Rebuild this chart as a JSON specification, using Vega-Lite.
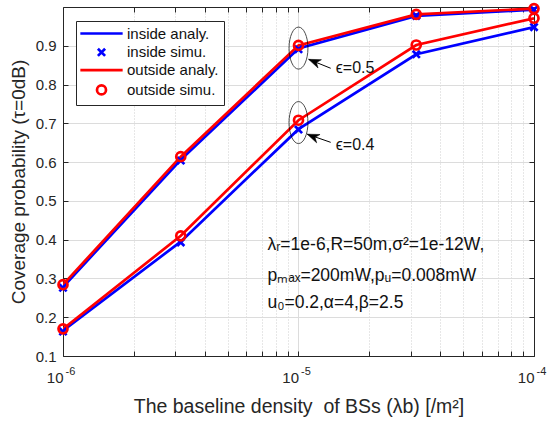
{
  "$schema": "https://vega.github.io/schema/vega-lite/v6.json",
  "width": 471,
  "height": 349,
  "autosize": {"type": "none"},
  "padding": {"left": 63, "top": 7, "right": 14, "bottom": 72},
  "background": "white",
  "config": {
    "font": "Liberation Sans",
    "view": {"stroke": null},
    "axis": {"labelFont": "Liberation Sans", "titleFont": "Liberation Sans", "labelColor": "#262626", "titleColor": "#262626", "domainColor": "#262626", "tickColor": "#262626", "labelFontSize": 15, "titleFontSize": 19, "titleFontWeight": "normal"}
  },
  "datasets": {
    "curves": [
      {"lambda": 1e-6, "cov": 0.278, "eps": "0.5", "kind": "inside analy."},
      {"lambda": 3.1623e-6, "cov": 0.606, "eps": "0.5", "kind": "inside analy."},
      {"lambda": 1e-5, "cov": 0.893, "eps": "0.5", "kind": "inside analy."},
      {"lambda": 3.1623e-5, "cov": 0.977, "eps": "0.5", "kind": "inside analy."},
      {"lambda": 1e-4, "cov": 0.993, "eps": "0.5", "kind": "inside analy."},
      {"lambda": 1e-6, "cov": 0.165, "eps": "0.4", "kind": "inside analy."},
      {"lambda": 3.1623e-6, "cov": 0.395, "eps": "0.4", "kind": "inside analy."},
      {"lambda": 1e-5, "cov": 0.685, "eps": "0.4", "kind": "inside analy."},
      {"lambda": 3.1623e-5, "cov": 0.878, "eps": "0.4", "kind": "inside analy."},
      {"lambda": 1e-4, "cov": 0.948, "eps": "0.4", "kind": "inside analy."},
      {"lambda": 1e-6, "cov": 0.284, "eps": "0.5", "kind": "outside analy."},
      {"lambda": 3.1623e-6, "cov": 0.614, "eps": "0.5", "kind": "outside analy."},
      {"lambda": 1e-5, "cov": 0.901, "eps": "0.5", "kind": "outside analy."},
      {"lambda": 3.1623e-5, "cov": 0.981, "eps": "0.5", "kind": "outside analy."},
      {"lambda": 1e-4, "cov": 0.996, "eps": "0.5", "kind": "outside analy."},
      {"lambda": 1e-6, "cov": 0.170, "eps": "0.4", "kind": "outside analy."},
      {"lambda": 3.1623e-6, "cov": 0.410, "eps": "0.4", "kind": "outside analy."},
      {"lambda": 1e-5, "cov": 0.708, "eps": "0.4", "kind": "outside analy."},
      {"lambda": 3.1623e-5, "cov": 0.902, "eps": "0.4", "kind": "outside analy."},
      {"lambda": 1e-4, "cov": 0.971, "eps": "0.4", "kind": "outside analy."}
    ],
    "sims": [
      {"lambda": 1e-6, "cov": 0.276, "eps": "0.5", "kind": "inside simu."},
      {"lambda": 3.1623e-6, "cov": 0.604, "eps": "0.5", "kind": "inside simu."},
      {"lambda": 1e-5, "cov": 0.891, "eps": "0.5", "kind": "inside simu."},
      {"lambda": 3.1623e-5, "cov": 0.977, "eps": "0.5", "kind": "inside simu."},
      {"lambda": 1e-4, "cov": 0.993, "eps": "0.5", "kind": "inside simu."},
      {"lambda": 1e-6, "cov": 0.163, "eps": "0.4", "kind": "inside simu."},
      {"lambda": 3.1623e-6, "cov": 0.393, "eps": "0.4", "kind": "inside simu."},
      {"lambda": 1e-5, "cov": 0.684, "eps": "0.4", "kind": "inside simu."},
      {"lambda": 3.1623e-5, "cov": 0.878, "eps": "0.4", "kind": "inside simu."},
      {"lambda": 1e-4, "cov": 0.948, "eps": "0.4", "kind": "inside simu."},
      {"lambda": 1e-6, "cov": 0.284, "eps": "0.5", "kind": "outside simu."},
      {"lambda": 3.1623e-6, "cov": 0.614, "eps": "0.5", "kind": "outside simu."},
      {"lambda": 1e-5, "cov": 0.901, "eps": "0.5", "kind": "outside simu."},
      {"lambda": 3.1623e-5, "cov": 0.981, "eps": "0.5", "kind": "outside simu."},
      {"lambda": 1e-4, "cov": 0.996, "eps": "0.5", "kind": "outside simu."},
      {"lambda": 1e-6, "cov": 0.170, "eps": "0.4", "kind": "outside simu."},
      {"lambda": 3.1623e-6, "cov": 0.410, "eps": "0.4", "kind": "outside simu."},
      {"lambda": 1e-5, "cov": 0.708, "eps": "0.4", "kind": "outside simu."},
      {"lambda": 3.1623e-5, "cov": 0.902, "eps": "0.4", "kind": "outside simu."},
      {"lambda": 1e-4, "cov": 0.971, "eps": "0.4", "kind": "outside simu."}
    ],
    "exponents": [
      {"lambda": 1e-6, "cov": 0.1, "sup": "-6"},
      {"lambda": 0.00001, "cov": 0.1, "sup": "-5"},
      {"lambda": 0.0001, "cov": 0.1, "sup": "-4"}
    ],
    "ellipses": [
      {"lambda": 1e-5, "cov": 0.894},
      {"lambda": 1e-5, "cov": 0.702}
    ],
    "arrows": [
      {"lambda": 1.37e-5, "cov": 0.842, "arrow": "a"},
      {"lambda": 1.104e-5, "cov": 0.865, "arrow": "a"},
      {"lambda": 1.37e-5, "cov": 0.651, "arrow": "b"},
      {"lambda": 1.089e-5, "cov": 0.672, "arrow": "b"}
    ],
    "heads": [
      {"lambda": 1.104e-5, "cov": 0.865},
      {"lambda": 1.089e-5, "cov": 0.672}
    ],
    "epslabels": [
      {"lambda": 1.44e-5, "cov": 0.842, "label": "ϵ=0.5"},
      {"lambda": 1.44e-5, "cov": 0.645, "label": "ϵ=0.4"}
    ],
    "params": [
      {"lambda": 7.38e-6, "cov": 0.385, "label": "λᵣ=1e-6,R=50m,σ²=1e-12W,"},
      {"lambda": 7.38e-6, "cov": 0.306, "label": "pₘₐₓ=200mW,pᵤ=0.008mW"},
      {"lambda": 7.38e-6, "cov": 0.236, "label": "u₀=0.2,α=4,β=2.5"}
    ]
  },
  "layer": [
    {
      "data": {"name": "curves"},
      "mark": {"type": "line", "strokeWidth": 2.7, "clip": true},
      "encoding": {
        "x": {"field": "lambda", "type": "quantitative",
          "scale": {"type": "log", "domain": [1e-6, 1e-4], "nice": false},
          "axis": {
            "orient": "bottom",
            "title": "The baseline density\u00a0 of BSs (λb) [/m²]",
            "titleFontSize": 19.5,
            "titlePadding": 12,
            "values": [1e-6, 2e-6, 3e-6, 4e-6, 5e-6, 6e-6, 7e-6, 8e-6, 9e-6, 0.00001, 0.00002, 0.00003, 0.00004, 0.00005, 0.00006, 0.00007, 0.00008, 0.00009, 0.0001],
            "labelExpr": "datum.value === 1e-6 || datum.value === 0.00001 || datum.value === 0.0001 ? '10' : ''",
            "labelFontSize": 15,
            "labelAlign": "right",
            "labelDx": 1.5,
            "labelOverlap": false,
            "labelFlush": false,
            "labelBound": false,
            "labelPadding": 19,
            "tickSize": -5,
            "grid": true,
            "gridColor": {"condition": {"test": "datum.value === 1e-6 || datum.value === 0.00001 || datum.value === 0.0001", "value": "#dcdcdc"}, "value": "#cfcfcf"},
            "gridDash": {"condition": {"test": "datum.value === 1e-6 || datum.value === 0.00001 || datum.value === 0.0001", "value": []}, "value": [1, 2]},
            "gridWidth": 1
          }},
        "y": {"field": "cov", "type": "quantitative",
          "scale": {"domain": [0.1, 1.0], "nice": false, "zero": false},
          "axis": {
            "orient": "left",
            "title": "Coverage probability (τ=0dB)",
            "titleFontSize": 19,
            "titlePadding": 7,
            "values": [0.1, 0.2, 0.3, 0.4, 0.5, 0.6, 0.7, 0.8, 0.9],
            "format": ".1f",
            "labelPadding": 12,
            "tickSize": -5,
            "grid": true,
            "gridColor": "#dcdcdc"
          }},
        "detail": {"field": "eps"},
        "stroke": {"field": "kind", "type": "nominal",
          "scale": {"domain": ["inside analy.", "outside analy."], "range": ["#0000ff", "#ff0000"]},
          "legend": null}
      }
    },
    {
      "data": {"name": "sims"},
      "mark": {"type": "point", "filled": false, "strokeWidth": 2.7, "size": 81, "opacity": 1},
      "encoding": {
        "x": {"field": "lambda", "type": "quantitative",
          "axis": {"orient": "top", "title": null, "labels": false, "grid": false, "tickSize": -5,
            "values": [1e-6, 2e-6, 3e-6, 4e-6, 5e-6, 6e-6, 7e-6, 8e-6, 9e-6, 0.00001, 0.00002, 0.00003, 0.00004, 0.00005, 0.00006, 0.00007, 0.00008, 0.00009, 0.0001]}},
        "y": {"field": "cov", "type": "quantitative",
          "axis": {"orient": "right", "title": null, "labels": false, "grid": false, "tickSize": -5,
            "values": [0.1, 0.2, 0.3, 0.4, 0.5, 0.6, 0.7, 0.8, 0.9]}},
        "color": {"field": "kind", "type": "nominal",
          "scale": {"domain": ["inside analy.", "inside simu.", "outside analy.", "outside simu."], "range": ["#0000ff", "#0000ff", "#ff0000", "#ff0000"]},
          "legend": {"title": null, "orient": "none", "legendX": 13, "legendY": 14,
            "strokeColor": "#262626", "fillColor": "white", "padding": 5,
            "labelFontSize": 15, "labelFont": "Liberation Sans", "labelColor": "#111",
            "symbolSize": 81, "symbolStrokeWidth": 2.7, "symbolOffset": 13, "labelOffset": 18, "rowPadding": 0.8}},
        "shape": {"field": "kind", "type": "nominal",
          "scale": {"domain": ["inside analy.", "inside simu.", "outside analy.", "outside simu."], "range": ["M-4.7,0L4.7,0", "M-0.8,-0.8L0.8,0.8M0.8,-0.8L-0.8,0.8", "M-4.7,0L4.7,0", "circle"]}}
      }
    },
    {
      "data": {"name": "exponents"},
      "mark": {"type": "text", "align": "left", "baseline": "middle", "fontSize": 11, "font": "Liberation Sans", "color": "#262626", "dx": 2.5, "dy": 16},
      "encoding": {
        "x": {"field": "lambda", "type": "quantitative", "axis": null},
        "y": {"field": "cov", "type": "quantitative", "axis": null},
        "text": {"field": "sup"}
      }
    },
    {
      "data": {"name": "ellipses"},
      "mark": {"type": "point", "filled": false, "stroke": "#000", "strokeWidth": 1, "size": 1764, "shape": "M0,-1A0.45,1 0 1,1 0,1A0.45,1 0 1,1 0,-1Z"},
      "encoding": {
        "x": {"field": "lambda", "type": "quantitative", "axis": null},
        "y": {"field": "cov", "type": "quantitative", "axis": null}
      }
    },
    {
      "data": {"name": "arrows"},
      "mark": {"type": "line", "stroke": "#000", "strokeWidth": 1},
      "encoding": {
        "x": {"field": "lambda", "type": "quantitative", "axis": null},
        "y": {"field": "cov", "type": "quantitative", "axis": null},
        "detail": {"field": "arrow"}
      }
    },
    {
      "data": {"name": "heads"},
      "mark": {"type": "point", "filled": true, "fill": "#000", "stroke": "#000", "strokeWidth": 0.5, "opacity": 1, "size": 144, "angle": 202, "shape": "M0,0L-2,-0.75L-1.4,0L-2,0.75Z"},
      "encoding": {
        "x": {"field": "lambda", "type": "quantitative", "axis": null},
        "y": {"field": "cov", "type": "quantitative", "axis": null}
      }
    },
    {
      "data": {"name": "epslabels"},
      "mark": {"type": "text", "align": "left", "baseline": "middle", "fontSize": 16, "font": "Liberation Sans", "color": "#111"},
      "encoding": {
        "x": {"field": "lambda", "type": "quantitative", "axis": null},
        "y": {"field": "cov", "type": "quantitative", "axis": null},
        "text": {"field": "label"}
      }
    },
    {
      "data": {"name": "params"},
      "mark": {"type": "text", "align": "left", "baseline": "middle", "fontSize": 17.5, "font": "Liberation Sans", "color": "#111"},
      "encoding": {
        "x": {"field": "lambda", "type": "quantitative", "axis": null},
        "y": {"field": "cov", "type": "quantitative", "axis": null},
        "text": {"field": "label"}
      }
    }
  ],
  "resolve": {"axis": {"x": "independent", "y": "independent"}}
}
